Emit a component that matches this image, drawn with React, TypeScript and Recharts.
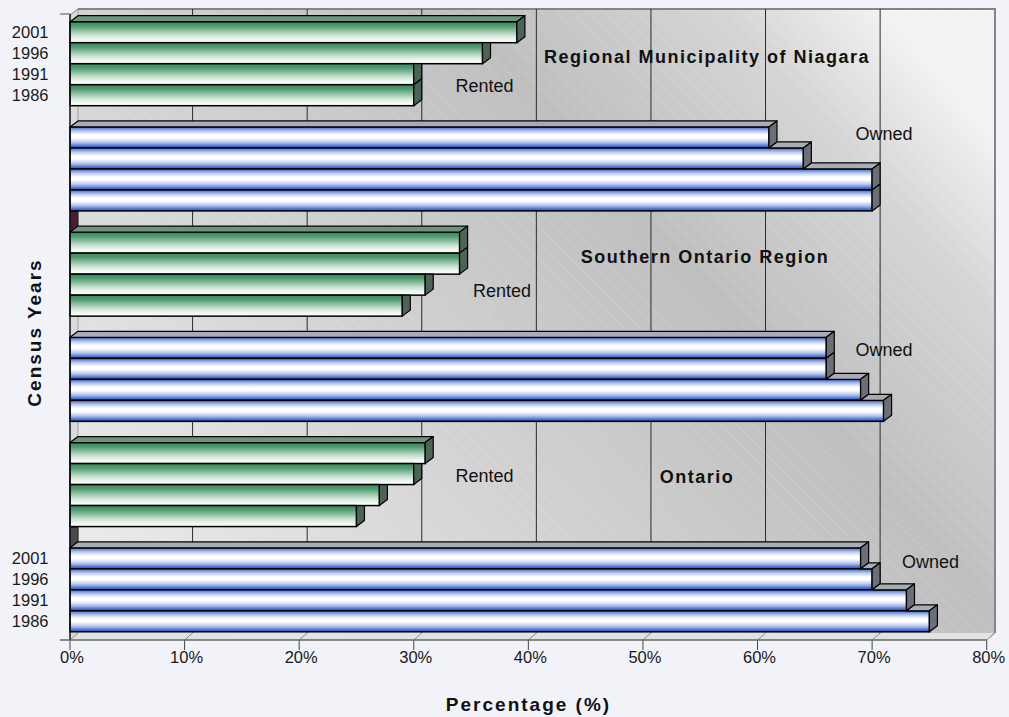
import { Bar, BarChart, CartesianGrid, XAxis, YAxis } from 'recharts'

// census years, top to bottom inside each block of bars
const years = ['2001', '1996', '1991', '1986']

// blocks of bars, top to bottom
const groups = [
  'Niagara Rented',
  'Niagara Owned',
  'Southern Ontario Rented',
  'Southern Ontario Owned',
  'Ontario Rented',
  'Ontario Owned',
]

// share of households (%), in the order of `years`
const niagaraRented = [39, 36, 30, 30]
const niagaraOwned = [61, 64, 70, 70]
const southernRented = [34, 34, 31, 29]
const southernOwned = [66, 66, 69, 71]
const ontarioRented = [31, 30, 27, 25]
const ontarioOwned = [69, 70, 73, 75]

const xTicks = [0, 10, 20, 30, 40, 50, 60, 70, 80]

const groupValues = [
  niagaraRented,
  niagaraOwned,
  southernRented,
  southernOwned,
  ontarioRented,
  ontarioOwned,
]

const data = groups.map((group, i) => {
  const row: Record<string, any> = { group, rented: group.endsWith('Rented') }
  years.forEach((yr, j) => {
    row['y' + yr] = groupValues[i][j]
  })
  return row
})

// layout of the pseudo-3D box
const WIDTH = 1009
const HEIGHT = 717
const PLOT = { left: 70, top: 11.35, right: 986.7, bottom: 642.65 }
const DEPTH_X = 8
const DEPTH_Y = 6
const WALL = { left: 78, top: 9, right: 995, bottom: 633 }
const FRONT_Y = 640
const X_MAX = 80
const CAT_GAP = 0.0984
const BAND = (PLOT.bottom - PLOT.top) / groups.length

const faces = {
  rented: { face: 'url(#rentedFace)', top: '#6c957b', side: '#4c6455' },
  owned: { face: 'url(#ownedFace)', top: '#a9acb4', side: '#6b6f79' },
}

const pts = (...p: number[][]) => p.map(([a, b]) => `${a},${b}`).join(' ')

// bar with a front face, a visible part of its top and its right side
function Bar3D(props: any) {
  const { x, y, width, height, payload, seriesKey, aboveKey, year } = props
  if (!payload || height == null || width == null) return null
  const c = payload.rented ? faces.rented : faces.owned
  const v = payload[seriesKey]
  const xEnd = x + width
  const perUnit = v > 0 ? width / v : 0
  const xUp = aboveKey ? x + payload[aboveKey] * perUnit : null
  const yb = y + height

  let top: string | null = null
  if (xUp == null) {
    top = pts([x, y], [xEnd, y], [xEnd + DEPTH_X, y - DEPTH_Y], [x + DEPTH_X, y - DEPTH_Y])
  } else if (xUp < xEnd) {
    const s = Math.max(x, xUp)
    top = pts([s, y], [xEnd, y], [xEnd + DEPTH_X, y - DEPTH_Y], [s + DEPTH_X, y - DEPTH_Y])
  }
  // part of the side hidden behind the bar above it
  const p = xUp == null ? xEnd : Math.min(Math.max(xUp, xEnd), xEnd + DEPTH_X)
  const side = pts(
    [xEnd, y],
    [p, y],
    [xEnd + DEPTH_X, y - ((xEnd + DEPTH_X - p) * DEPTH_Y) / DEPTH_X],
    [xEnd + DEPTH_X, yb - DEPTH_Y],
    [xEnd, yb],
  )

  const gi = groups.indexOf(payload.group)
  const showYear = gi === 0 || gi === groups.length - 1

  return (
    <g>
      <rect x={x} y={y} width={width} height={height} fill={c.face} stroke="#000" strokeWidth={1.5} />
      {top && (
        <polygon points={top} fill={c.top} stroke="#000" strokeWidth={1.2} strokeLinejoin="round" />
      )}
      <polygon points={side} fill={c.side} stroke="#000" strokeWidth={1.2} strokeLinejoin="round" />
      {showYear && (
        <text x={48.5} y={y + height / 2} textAnchor="end" dominantBaseline="central" fontSize={16.5} fill="#1a1a1a">
          {year}
        </text>
      )}
    </g>
  )
}

function XTick(props: any) {
  const { x, payload } = props
  return (
    <g>
      <line x1={x} y1={FRONT_Y} x2={x + DEPTH_X} y2={WALL.bottom} stroke="#8a8a8a" />
      <line x1={x} y1={FRONT_Y} x2={x} y2={FRONT_Y + 10} stroke="#444" />
      <text x={x + 2} y={663} textAnchor="middle" fontSize={16.5} fill="#1a1a1a">
        {payload.value}%
      </text>
    </g>
  )
}

// left-wall stubs of the empty rows between blocks
function gapStub(after: number, fill: string) {
  const bottom = PLOT.top + after * BAND + BAND * (1 - CAT_GAP)
  const next = PLOT.top + (after + 1) * BAND + BAND * CAT_GAP
  return (
    <polygon
      points={pts([PLOT.left, bottom], [WALL.left, bottom], [WALL.left, next - DEPTH_Y], [PLOT.left, next])}
      fill={fill}
      stroke="#222"
      strokeWidth={1}
    />
  )
}

const labelStyle = { fontSize: 18, fill: '#111' }
const titleStyle = { fontSize: 18, fontWeight: 700, letterSpacing: 1.5, fill: '#111' }
const axisTitleStyle = { fontSize: 19, fontWeight: 700, letterSpacing: 2, fill: '#111' }

export default function App() {
  const wallW = WALL.right - WALL.left
  const wallH = WALL.bottom - WALL.top
  return (
    <div
      style={{
        position: 'absolute',
        left: 0,
        top: 0,
        width: WIDTH,
        height: HEIGHT,
        background: '#f1f3f8',
        fontFamily: '"Liberation Sans", Arial, sans-serif',
      }}
    >
      <svg width={WIDTH} height={HEIGHT} style={{ position: 'absolute', left: 0, top: 0 }}>
        <defs>
          <linearGradient id="wallShade" x1="0" y1="0.8" x2="1" y2="0.2">
            <stop offset="0" stopColor="#e9e9e9" />
            <stop offset="0.35" stopColor="#d3d3d3" />
            <stop offset="0.5" stopColor="#c9c9c9" />
            <stop offset="0.66" stopColor="#bfbfbf" />
            <stop offset="0.87" stopColor="#d5d5d5" />
            <stop offset="1" stopColor="#f3f3f3" />
          </linearGradient>
          <pattern id="hatch" width="11" height="11" patternUnits="userSpaceOnUse" patternTransform="rotate(-45)">
            <line x1="0" y1="0" x2="0" y2="11" stroke="#ffffff" strokeOpacity={0.25} strokeWidth={1} />
          </pattern>
          <linearGradient id="ownedFace" x1="0" y1="0" x2="0" y2="1">
            <stop offset="0" stopColor="#2f5fc4" />
            <stop offset="0.1" stopColor="#7d98dc" />
            <stop offset="0.22" stopColor="#c3cff0" />
            <stop offset="0.38" stopColor="#ffffff" />
            <stop offset="0.52" stopColor="#ffffff" />
            <stop offset="0.66" stopColor="#d3dcf4" />
            <stop offset="0.78" stopColor="#9fb3e6" />
            <stop offset="0.88" stopColor="#5a7fd4" />
            <stop offset="1" stopColor="#1d4fc0" />
          </linearGradient>
          <linearGradient id="rentedFace" x1="0" y1="0" x2="0" y2="1">
            <stop offset="0" stopColor="#3b8a5e" />
            <stop offset="0.2" stopColor="#4f9a70" />
            <stop offset="0.4" stopColor="#86bc9c" />
            <stop offset="0.6" stopColor="#c2dccb" />
            <stop offset="0.8" stopColor="#eaf4ee" />
            <stop offset="1" stopColor="#ffffff" />
          </linearGradient>
        </defs>
        <rect x={WALL.left} y={WALL.top} width={wallW} height={wallH} fill="url(#wallShade)" />
        <rect x={WALL.left} y={WALL.top} width={wallW} height={wallH} fill="url(#hatch)" />
        <polygon
          points={pts([PLOT.left, WALL.top + DEPTH_Y], [WALL.left, WALL.top], [WALL.left, WALL.bottom], [PLOT.left, FRONT_Y])}
          fill="#dadada"
        />
        <line x1={WALL.left} y1={WALL.top} x2={WALL.left} y2={WALL.bottom} stroke="#a0a0a0" />
        <polygon
          points={pts([PLOT.left, FRONT_Y], [WALL.left, WALL.bottom], [WALL.right, WALL.bottom], [PLOT.right, FRONT_Y])}
          fill="#e2e2e2"
        />
        <polyline
          points={pts([WALL.left, WALL.top], [WALL.right, WALL.top], [WALL.right, WALL.bottom])}
          fill="none"
          stroke="#858585"
          strokeWidth={2}
        />
        {gapStub(1, '#4b1a33')}
        {gapStub(4, '#4a4a4a')}
      </svg>

      <div style={{ position: 'absolute', left: 0, top: 0 }}>
        <BarChart
          width={WIDTH}
          height={HEIGHT}
          data={data}
          layout="vertical"
          margin={{ top: PLOT.top, right: WIDTH - PLOT.right, bottom: HEIGHT - PLOT.bottom - 30, left: PLOT.left }}
          barCategoryGap={`${CAT_GAP * 100}%`}
          barGap={0}
        >
          <CartesianGrid
            horizontal={false}
            stroke="#2b2b2b"
            y={WALL.top}
            height={WALL.bottom - WALL.top}
            verticalCoordinatesGenerator={({ offset }: any) =>
              xTicks
                .filter((t) => t > 0 && t < X_MAX)
                .map((t) => offset.left + (offset.width * t) / X_MAX + DEPTH_X)
            }
          />
          <XAxis
            type="number"
            domain={[0, X_MAX]}
            ticks={xTicks}
            interval={0}
            height={30}
            axisLine={false}
            tickLine={false}
            tick={(p: any) => <XTick {...p} />}
          />
          <YAxis type="category" dataKey="group" hide />
          {years.map((yr, i) => (
            <Bar
              key={yr}
              dataKey={'y' + yr}
              isAnimationActive={false}
              shape={(p: any) => (
                <Bar3D {...p} seriesKey={'y' + yr} aboveKey={i > 0 ? 'y' + years[i - 1] : null} year={yr} />
              )}
            />
          ))}
        </BarChart>
      </div>

      <svg width={WIDTH} height={HEIGHT} style={{ position: 'absolute', left: 0, top: 0, pointerEvents: 'none' }}>
        <line x1={PLOT.left} y1={WALL.top + DEPTH_Y} x2={WALL.left} y2={WALL.top} stroke="#858585" />
        <line x1={PLOT.left} y1={WALL.top + DEPTH_Y - 1} x2={PLOT.left} y2={FRONT_Y} stroke="#111" strokeWidth={1.5} />
        <line x1={60} y1={WALL.top + DEPTH_Y - 1} x2={PLOT.left} y2={WALL.top + DEPTH_Y - 1} stroke="#555" />
        <line x1={60} y1={FRONT_Y} x2={PLOT.right} y2={FRONT_Y} stroke="#666" strokeWidth={1.5} />
        <line x1={PLOT.right} y1={FRONT_Y} x2={WALL.right} y2={WALL.bottom} stroke="#999" />

        <text x={707} y={63} textAnchor="middle" style={titleStyle}>Regional Municipality of Niagara</text>
        <text x={705} y={263} textAnchor="middle" style={titleStyle}>Southern Ontario Region</text>
        <text x={697} y={483} textAnchor="middle" style={titleStyle}>Ontario</text>

        <text x={484.5} y={91.5} textAnchor="middle" style={labelStyle}>Rented</text>
        <text x={884} y={140} textAnchor="middle" style={labelStyle}>Owned</text>
        <text x={502} y={296.5} textAnchor="middle" style={labelStyle}>Rented</text>
        <text x={884} y={355.5} textAnchor="middle" style={labelStyle}>Owned</text>
        <text x={484.5} y={482} textAnchor="middle" style={labelStyle}>Rented</text>
        <text x={930.5} y={568} textAnchor="middle" style={labelStyle}>Owned</text>

        <text x={528.5} y={711} textAnchor="middle" style={axisTitleStyle}>
          Percentage (%)
        </text>
        <text transform="translate(41, 332.5) rotate(-90)" textAnchor="middle" style={axisTitleStyle}>
          Census Years
        </text>
      </svg>
    </div>
  )
}
